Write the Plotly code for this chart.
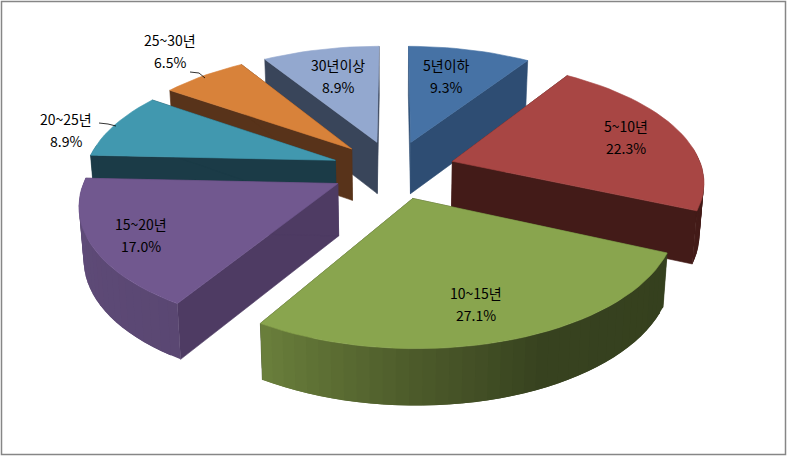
import math
import plotly.graph_objects as go

# ---- chart data ----
categories = ["5년이하", "5~10년", "10~15년", "15~20년", "20~25년", "25~30년", "30년이상"]
values = [9.3, 22.3, 27.1, 17.0, 8.9, 6.5, 8.9]

# ---- styles ----
top_colors = ["#4672a5", "#a84644", "#89a54e", "#71588f", "#4198af", "#d8823a", "#93a8cf"]
wall_colors = ["#2e4d73", "#431b18", "#35401e", "#4e3b63", "#1b3b47", "#58331a", "#39455a"]
# outer-rim colour stops: (angle, colour) - lighting falls off to the right
rim_stops = {
    0: [(0, "#2e4d73"), (360, "#2e4d73")],
    1: [(0, "#431b18"), (360, "#431b18")],
    2: [(114, "#35401e"), (155, "#37421f"), (180, "#4c5a2a"), (212, "#6b803c")],
    3: [(211, "#5a4772"), (273, "#604c7a")],
    4: [(0, "#1b3b47"), (360, "#1b3b47")],
    5: [(0, "#58331a"), (360, "#58331a")],
    6: [(0, "#39455a"), (360, "#39455a")],
}
label_xy = [(446, 65), (626, 126), (476, 293), (141, 224), (66, 119), (170, 40), (338, 65)]
LINE_GAP = 22

CX, CY = 393.5, 169.5       # pie centre on the page
R = 250                     # pie radius
EXPLODE = 62
TILT = 0.472
PERSP = 0.15


def hex_rgb(c):
    return tuple(int(c[i:i + 2], 16) for i in (1, 3, 5))


def rim_color(stops, ang):
    if ang <= stops[0][0]:
        return stops[0][1]
    for (a0, c0), (a1, c1) in zip(stops, stops[1:]):
        if ang <= a1:
            t = (ang - a0) / (a1 - a0)
            r0, r1 = hex_rgb(c0), hex_rgb(c1)
            return "#%02x%02x%02x" % tuple(round(p + (q - p) * t) for p, q in zip(r0, r1))
    return stops[-1][1]


def project(u, v, low=False):
    s = 1 / (1 + PERSP * v / R)
    x = CX + u * s
    y = CY - v * TILT * s
    if low:
        x = CX + (x - CX) * 0.985
        y += 30 + 22 * s
    return x, y


def ground(deg, r, ox, oy):
    a = math.radians(deg)
    return ox + r * math.sin(a), oy + r * math.cos(a)


fig = go.Figure()


def poly(points, color, width=0.6):
    xs = [p[0] for p in points] + [points[0][0]]
    ys = [p[1] for p in points] + [points[0][1]]
    fig.add_trace(go.Scatter(x=xs, y=ys, mode="lines", fill="toself", fillcolor=color,
                             line=dict(color=color, width=width), hoverinfo="skip", showlegend=False))


total = sum(values)
spans = []
acc = 0.0
for i, v in enumerate(values):
    a0 = acc / total * 360
    acc += v
    a1 = acc / total * 360
    spans.append((i, a0, a1))

# back-to-front painting
order = sorted(spans, key=lambda t: -math.cos(math.radians((t[1] + t[2]) / 2)))
for i, a0, a1 in order:
    mid = math.radians((a0 + a1) / 2)
    ox, oy = EXPLODE * math.sin(mid), EXPLODE * math.cos(mid)
    steps = max(6, int((a1 - a0) / 2.5))
    angs = [a0 + (a1 - a0) * k / steps for k in range(steps + 1)]
    rim = [ground(a, R, ox, oy) for a in angs]

    # radial walls
    for edge in (rim[0], rim[-1]):
        poly([project(ox, oy), project(*edge), project(*edge, low=True), project(ox, oy, low=True)],
             wall_colors[i])
    # outer rim: segments overlap their neighbour so no seams show
    for k in range(steps):
        am = (angs[k] + angs[k + 1]) / 2
        if math.cos(math.radians(am)) > 0.1:
            continue
        e = min(k + 2, steps)
        arc = rim[k:e + 1]
        poly([project(*p) for p in arc] + [project(*p, low=True) for p in reversed(arc)],
             rim_color(rim_stops[i], am), width=0)
    # top face
    poly([project(ox, oy)] + [project(*p) for p in rim], top_colors[i])

# data labels
for name, val, (lx, ly) in zip(categories, values, label_xy):
    for text, yy in ((name, ly), (f"{val:.1f}%", ly + LINE_GAP)):
        fig.add_annotation(x=lx, y=yy, text=text, showarrow=False, xanchor="center", yanchor="middle",
                           font=dict(family="Noto Sans CJK KR", size=14, color="#000000"))

leaders = ["M190,72 L199,73 L205,78", "M99,123 L108,124 L116,126"]
shapes = [dict(type="path", path=p, line=dict(color="#000000", width=0.8), xref="x", yref="y")
          for p in leaders]
shapes.append(dict(type="rect", x0=1.5, y0=1.5, x1=785.5, y1=454.5, xref="x", yref="y",
                   line=dict(color="#868686", width=1.5), layer="above"))

fig.update_layout(
    width=788, height=457, margin=dict(l=0, r=0, t=0, b=0),
    paper_bgcolor="#ffffff", plot_bgcolor="#ffffff", showlegend=False, shapes=shapes,
    xaxis=dict(range=[0, 788], visible=False, fixedrange=True),
    yaxis=dict(range=[457, 0], visible=False, fixedrange=True),
)
fig.write_html("out.html", config={"displayModeBar": False},
               post_script="document.body.style.margin='0';document.body.style.overflow='hidden';")
